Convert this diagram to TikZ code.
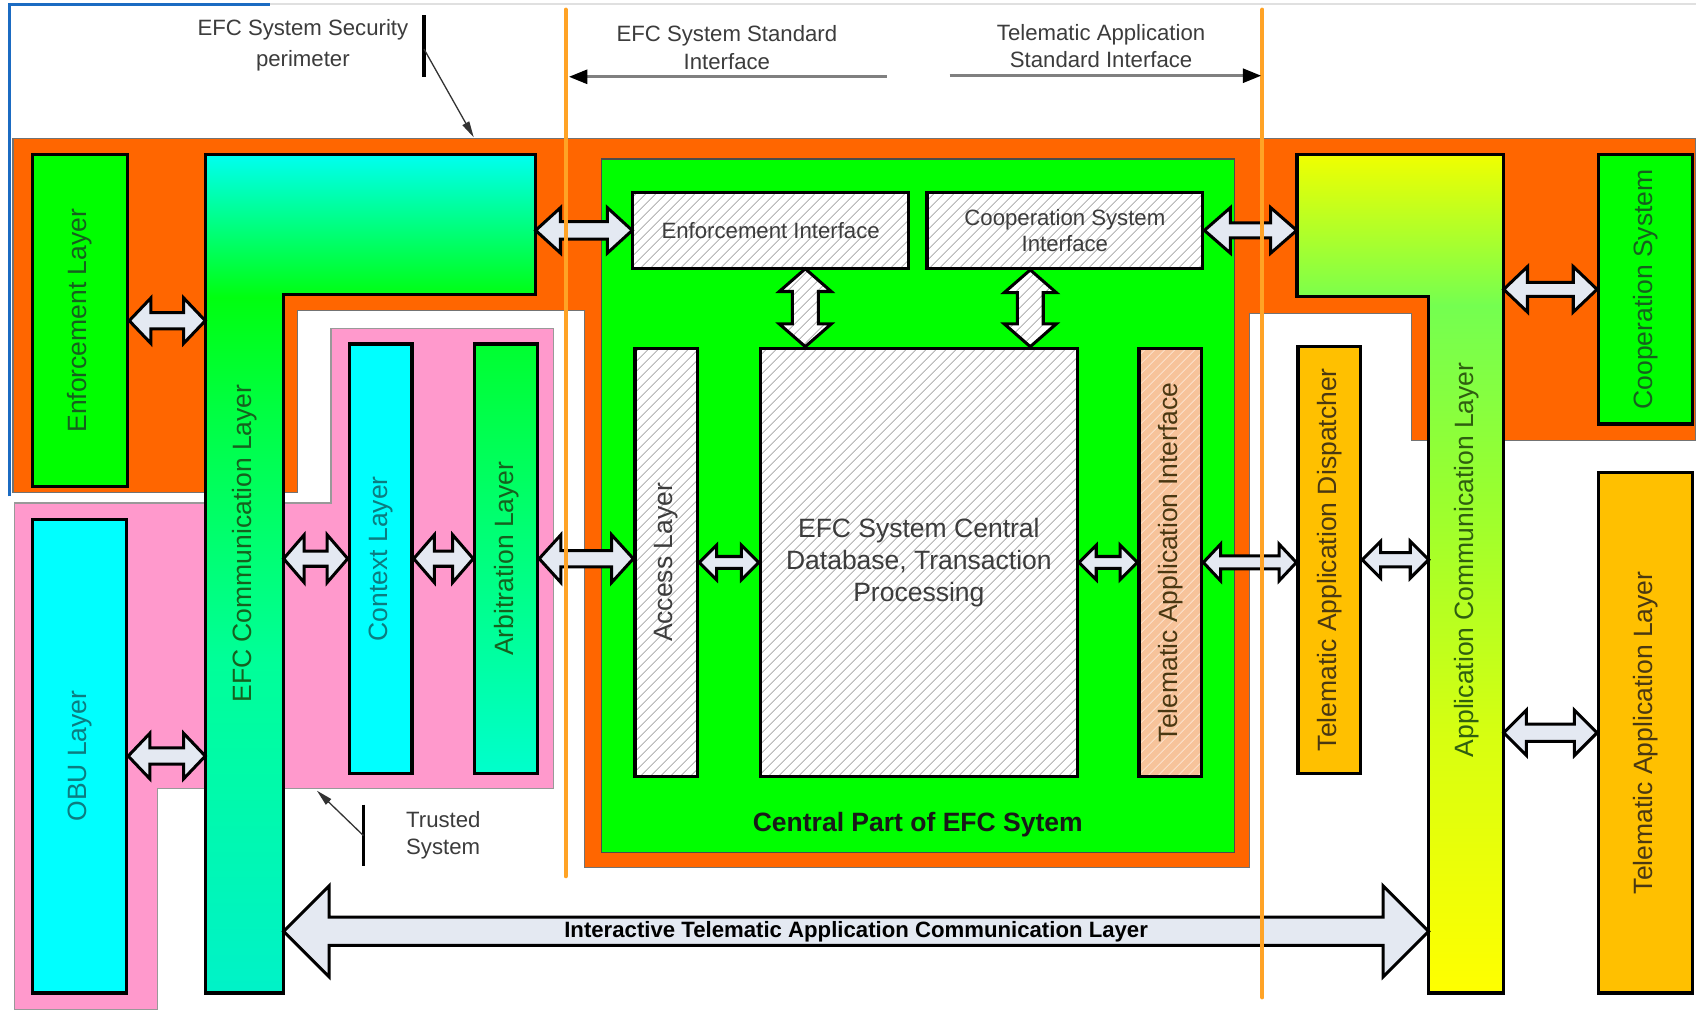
\documentclass[tikz,border=0pt]{standalone}
\usepackage{fontspec}
\setmainfont{Liberation Sans}
\usepackage{xcolor}
\usetikzlibrary{positioning,calc,fit,patterns.meta,arrows.meta}

\definecolor{efcgreen}{HTML}{00FF00}
\definecolor{efccyan}{HTML}{00FFFF}
\definecolor{perimorange}{HTML}{FF6600}
\definecolor{trustpink}{HTML}{FF99CC}
\definecolor{tagold}{HTML}{FFC000}
\definecolor{taipeach}{HTML}{F7C39A}
\definecolor{taihatch}{HTML}{FBDDC4}
\definecolor{hatchgray}{HTML}{BCBCBC}
\definecolor{arrowfill}{HTML}{E4E9F2}
\definecolor{stdorange}{HTML}{FFA326}
\definecolor{anngray}{HTML}{3C3C3C}
\definecolor{txtgreen}{HTML}{16601E}
\definecolor{txtteal}{HTML}{0C7C80}
\definecolor{txtolive}{HTML}{2F5E10}
\definecolor{txtbrown}{HTML}{4A3812}
\definecolor{screenblue}{HTML}{1B6BC2}
\definecolor{arbtop}{HTML}{00FF30}
\definecolor{arbbot}{HTML}{00FFCC}
\definecolor{efcshbot}{HTML}{00F2C8}
\definecolor{efcsha}{HTML}{00FF98}
\definecolor{efcshb}{HTML}{00FF40}
\definecolor{efcshc}{HTML}{00FF10}
\definecolor{efcshtop}{HTML}{00FFF0}
\definecolor{appshbot}{HTML}{FFFF00}
\definecolor{appsha}{HTML}{D8FF10}
\definecolor{appshb}{HTML}{98FF30}
\definecolor{appshc}{HTML}{74FF50}
\definecolor{appshtop}{HTML}{F0FF00}

\pgfdeclareverticalshading{efccommshade}{100bp}{color(0bp)=(efcshbot); color(25bp)=(efcshbot); color(45bp)=(efcsha); color(60bp)=(efcshb); color(66.5bp)=(efcshc); color(75bp)=(efcshtop); color(100bp)=(efcshtop)}
\pgfdeclareverticalshading{appcommshade}{100bp}{color(0bp)=(appshbot); color(25bp)=(appshbot); color(40bp)=(appsha); color(55bp)=(appshb); color(66bp)=(appshc); color(75bp)=(appshtop); color(100bp)=(appshtop)}

% hollow double arrow between two points: [opts]{from}{to}{shaft}{head}{head length}
\newcommand{\dblarrow}[6][]{%
  \coordinate (da-a) at (#2);
  \coordinate (da-b) at (#3);
  \coordinate (da-m) at ($(da-a)!#6!(da-b)$);
  \coordinate (da-n) at ($(da-b)!#6!(da-a)$);
  \draw[blockarrow,#1] (da-a)
    -- ($(da-m)!#5!90:(da-b)$) -- ($(da-m)!#4!90:(da-b)$)
    -- ($(da-n)!#4!-90:(da-a)$) -- ($(da-n)!#5!-90:(da-a)$)
    -- (da-b)
    -- ($(da-n)!#5!90:(da-a)$) -- ($(da-n)!#4!90:(da-a)$)
    -- ($(da-m)!#4!-90:(da-b)$) -- ($(da-m)!#5!-90:(da-b)$)
    -- cycle;
}

\begin{document}
\begin{tikzpicture}[x=1pt, y=-1pt,
    layer/.style={draw=black, line width=3pt, inner sep=0pt},
    hatchbox/.style={layer, preaction={fill=#1}, pattern={Lines[angle=45,distance=6.5pt,line width=1pt]}, pattern color=hatchgray},
    hatchbox/.default=white,
    hatcharrow/.style={preaction={fill=white}, pattern={Lines[angle=45,distance=6.5pt,line width=1pt]}, pattern color=hatchgray},
    vtext/.style={rotate=90, font=\fontsize{24.5}{29.5}\selectfont},
    htext/.style={font=\fontsize{20.5}{25}\selectfont, text=anngray, align=center},
    blockarrow/.style={draw=black, line width=2.8pt, fill=arrowfill, line join=miter},
    annbar/.style={black, line width=3pt},
    annarrow/.style={black!80, line width=1.2pt, -{Triangle[length=15pt,width=7pt]}},
    stdarrow/.style={black!50, line width=2.5pt, -{Triangle[length=17pt,width=13pt,color=black]}},
    stdline/.style={stdorange, line width=4pt, line cap=round}]

    % canvas
    \fill[white] (0,0) rectangle (1568,933);
    \useasboundingbox (0,0) rectangle (1568,933);
    \draw[screenblue, line width=3pt] (9,459) -- (9,4) -- (250,4);
    \draw[black!12, line width=2pt] (250,4) -- (1568,4);

    % EFC system security perimeter
    \filldraw[fill=perimorange, draw=black!55, line width=1pt]
      (12,128) -- (1568,128) -- (1568,407) -- (1305,407) -- (1305,290) -- (1155,290)
      -- (1155,802) -- (540,802) -- (540,287) -- (275,287) -- (275,455) -- (12,455) -- cycle;

    % Trusted system
    \filldraw[fill=trustpink, draw=black!40, line width=1pt]
      (13,465) -- (306,465) -- (306,304) -- (512,304) -- (512,729) -- (146,729) -- (146,933) -- (13,933) -- cycle;

    % Central part
    \node[draw=black!70, line width=1.2pt, fill=efcgreen, inner sep=0pt, fit={(556,147) (1141,788)}] (central) {};
    \node[font=\bfseries\fontsize{24.5}{29}\selectfont, text=black!90] (central-txt) at ($(central.south)+(0,-26)$) {Central Part of EFC Sytem};

    % on-board layers
    \node[layer, fill=efcgreen, fit={(30,143) (118,450)}, label={[vtext, text=txtgreen]center:Enforcement Layer}] (enf) {};
    \node[layer, fill=efccyan, fit={(30,480) (117,918)}, label={[vtext, text=txtteal]center:OBU Layer}] (obu) {};
    \node[layer, fill=efccyan, fit={(323,318) (381,715)}, label={[vtext, text=txtteal]center:Context Layer}] (ctx) {};
    \node[layer, top color=arbtop, bottom color=arbbot, fit={(439,318) (497,715)}, label={[vtext, text=txtgreen]center:Arbitration Layer}] (arb) {};

    % central blocks
    \node[hatchbox, fit={(585,178) (840,248)}, label={[htext]center:Enforcement Interface}] (ei) {};
    \node[hatchbox, fit={(857,178) (1112,248)}, label={[htext, font=\fontsize{20.5}{24}\selectfont]center:Cooperation System\\Interface}] (csi) {};
    \node[hatchbox, fit={(587,322) (645,718)}, label={[vtext, text=anngray]center:Access Layer}] (acc) {};
    \node[hatchbox, fit={(703,322) (996,718)}, label={[font=\fontsize{24.5}{29.5}\selectfont, text=anngray, align=center]center:EFC System Central\\Database, Transaction\\Processing}] (db) {};
    \node[hatchbox=taipeach, pattern color=taihatch, fit={(1053,322) (1111,718)}, label={[vtext, text=txtbrown]center:Telematic Application Interface}] (tai) {};

    % telematic side
    \node[layer, fill=tagold, fit={(1200,320) (1258,715)}, label={[vtext, text=txtbrown]center:Telematic Application Dispatcher}] (tad) {};
    \node[layer, fill=efcgreen, fit={(1478,143) (1565,392)}, label={[vtext, text=txtgreen]center:Cooperation System}] (coop) {};
    \node[layer, fill=tagold, fit={(1478,437) (1565,918)}, label={[vtext, text=txtbrown]center:Telematic Application Layer}] (tal) {};

    % communication layers
    \shadedraw[layer, shading=efccommshade] (190,143) -- (495,143) -- (495,272) -- (262,272) -- (262,918) -- (190,918) -- cycle;
    \shadedraw[layer, shading=appcommshade] (1199,143) -- (1390,143) -- (1390,918) -- (1321,918) -- (1321,274) -- (1199,274) -- cycle;
    \node[fit={(190,143) (262,918)}, inner sep=0pt] (efcstem) {};
    \node[fit={(190,143) (495,272)}, inner sep=0pt] (efctop) {};
    \node[fit={(1321,143) (1390,918)}, inner sep=0pt] (appstem) {};
    \node[fit={(1199,143) (1390,274)}, inner sep=0pt] (apptop) {};
    \node[vtext, text=txtgreen] (efccomm-txt) at ($(efcstem.center)+(0,-28)$) {EFC Communication Layer};
    \node[vtext, text=txtolive] (appcomm-txt) at (appstem.center |- tad.center) {Application Communication Layer};

    % layer interfaces
    \dblarrow{enf.east}{enf.east -| efcstem.west}{7.5pt}{21pt}{20pt}
    \dblarrow{obu.east}{obu.east -| efcstem.west}{7.5pt}{21pt}{20pt}
    \dblarrow{ctx.west -| efcstem.east}{ctx.west}{7pt}{22pt}{19pt}
    \dblarrow{ctx.east}{arb.west}{7pt}{22pt}{19pt}
    \dblarrow{arb.east}{arb.east -| acc.west}{7.5pt}{22pt}{20pt}
    \dblarrow{acc.east}{acc.east -| db.west}{5.5pt}{16pt}{16pt}
    \dblarrow{db.east}{db.east -| tai.west}{5.5pt}{16pt}{16pt}
    \dblarrow{tai.east}{tai.east -| tad.west}{6pt}{17pt}{16pt}
    \dblarrow{tad.east}{tad.east -| appstem.west}{6.5pt}{17pt}{17pt}
    \dblarrow{coop.west -| appstem.east}{coop.west}{6.5pt}{21pt}{22pt}
    \dblarrow{tal.west -| appstem.east}{tal.west}{8pt}{21pt}{21pt}
    \dblarrow{ei.west -| efctop.east}{ei.west}{8pt}{21pt}{23pt}
    \dblarrow{csi.east}{csi.east -| apptop.west}{7pt}{21pt}{24pt}

    % into the database
    \coordinate (db-n1) at ($(db.north west)+(43,0)$);
    \coordinate (db-n2) at ($(db.north east)+(-45,0)$);
    \dblarrow[hatcharrow]{db-n1 |- ei.south}{db-n1}{12pt}{24pt}{21pt}
    \dblarrow[hatcharrow]{db-n2 |- csi.south}{db-n2}{12pt}{24pt}{21pt}

    % interactive telematic application communication layer
    \coordinate (itac) at (0,861);
    \dblarrow{itac -| efcstem.east}{itac -| appstem.west}{13pt}{42pt}{42pt}
    \node[font=\bfseries\fontsize{20.5}{24}\selectfont] (itac-txt) at ($(efcstem.east |- itac)!0.5!(appstem.west |- itac)$) {Interactive Telematic Application Communication Layer};

    % standard interface lines
    \coordinate (efcstd-top) at (523,9);
    \coordinate (efcstd-bot) at (523,810);
    \coordinate (tastd-top) at (1167,9);
    \coordinate (tastd-bot) at (1167,922);
    \draw[stdline] (efcstd-top) -- (efcstd-bot);
    \draw[stdline] (tastd-top) -- (tastd-bot);

    \node[htext] (efcstd-txt) at (672,44) {EFC System Standard\\Interface};
    \node[htext] (tastd-txt) at (1018,43) {Telematic Application\\Standard Interface};
    \coordinate (efcstd-arr) at (820,71);
    \coordinate (tastd-arr) at (878,70);
    \draw[stdarrow, shorten >=3pt] (efcstd-arr) -- (efcstd-arr -| efcstd-top);
    \draw[stdarrow, shorten >=1pt] (tastd-arr) -- (tastd-arr -| tastd-top);

    % annotations
    \node[htext, font=\fontsize{20.5}{29}\selectfont] (perim-txt) at (280,42) {EFC System Security\\perimeter};
    \coordinate (perim-bar1) at (392,14);
    \coordinate (perim-bar2) at (392,71);
    \coordinate (perim-pt) at (438,127);
    \draw[annbar] (perim-bar1) -- (perim-bar2);
    \draw[annarrow] ($(perim-bar1)!0.55!(perim-bar2)$) -- (perim-pt);

    \node[htext, align=left, anchor=west] (trust-txt) at (372,772) {Trusted\\System};
    \coordinate (trust-bar1) at (336,744);
    \coordinate (trust-bar2) at (336,801);
    \coordinate (trust-pt) at (293,731);
    \draw[annbar] (trust-bar1) -- (trust-bar2);
    \draw[annarrow] ($(trust-bar1)!0.5!(trust-bar2)$) -- (trust-pt);
\end{tikzpicture}
\end{document}
